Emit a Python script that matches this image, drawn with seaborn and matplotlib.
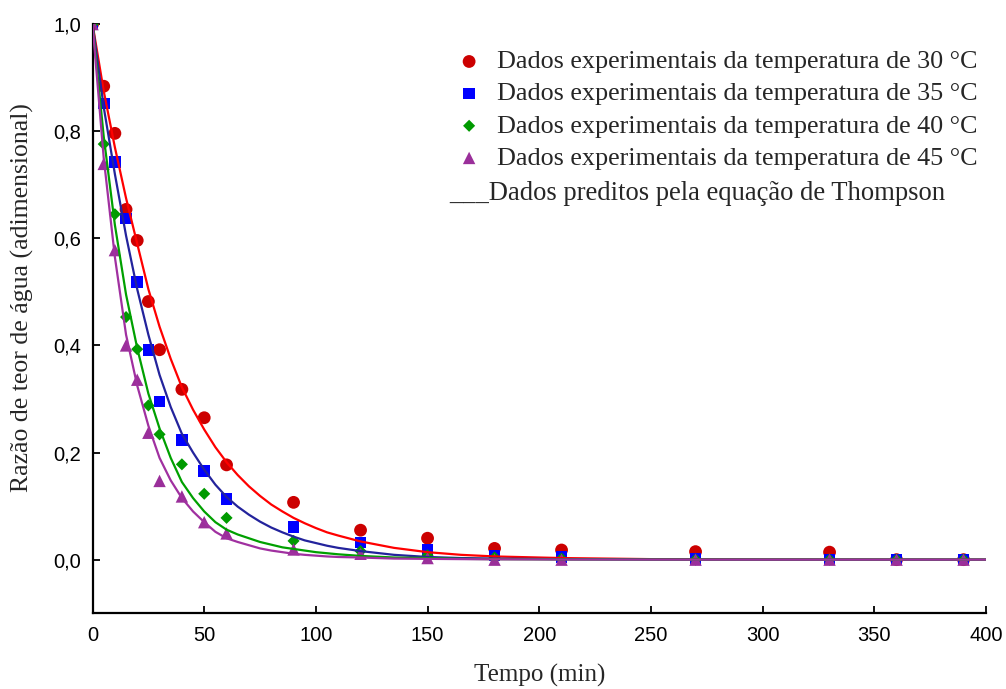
import matplotlib
matplotlib.use("Agg")
import matplotlib.pyplot as plt
import seaborn as sns
import pandas as pd

tempo = [0, 5, 10, 15, 20, 25, 30, 40, 50, 60, 90, 120, 150, 180, 210, 270, 330, 360, 390]
ru_30 = [1.0, 0.884, 0.796, 0.654, 0.596, 0.482, 0.392, 0.318, 0.265, 0.177, 0.107, 0.055,
         0.040, 0.021, 0.018, 0.015, 0.014, 0.0, 0.0]
ru_35 = [1.0, 0.852, 0.743, 0.637, 0.518, 0.391, 0.295, 0.224, 0.165, 0.113, 0.061, 0.032,
         0.019, 0.008, 0.005, 0.001, 0.0, 0.0, 0.0]
ru_40 = [1.0, 0.776, 0.645, 0.453, 0.393, 0.288, 0.234, 0.178, 0.123, 0.078, 0.035, 0.016,
         0.008, 0.004, 0.002, 0.0, 0.0, 0.0, 0.0]
ru_45 = [1.0, 0.739, 0.578, 0.400, 0.336, 0.237, 0.147, 0.118, 0.070, 0.049, 0.019, 0.011,
         0.003, 0.0, 0.0, 0.0, 0.0, 0.0, 0.0]

# Thompson model curves
tempo_fit = [0, 5, 10, 15, 20, 25, 30, 35, 40, 45, 50, 55, 60, 65, 70, 75, 80, 85, 90, 95,
             100, 105, 110, 120, 135, 150, 165, 180, 210, 250, 300, 400]
fit_30 = [1.0, 0.875, 0.77, 0.675, 0.59, 0.505, 0.435, 0.375, 0.322, 0.28, 0.243, 0.21, 0.182,
          0.158, 0.137, 0.119, 0.103, 0.09, 0.078, 0.068, 0.059, 0.051, 0.045, 0.034, 0.022,
          0.014, 0.009, 0.006, 0.003, 0.001, 0.0003, 0.0]
fit_35 = [1.0, 0.845, 0.72, 0.605, 0.505, 0.42, 0.345, 0.285, 0.235, 0.2, 0.168, 0.14, 0.117,
          0.099, 0.084, 0.071, 0.06, 0.051, 0.043, 0.036, 0.031, 0.026, 0.022, 0.016, 0.009,
          0.005, 0.003, 0.002, 0.001, 0.0003, 0.0001, 0.0]
fit_40 = [1.0, 0.79, 0.625, 0.495, 0.395, 0.31, 0.245, 0.19, 0.145, 0.115, 0.09, 0.07, 0.056,
          0.047, 0.04, 0.033, 0.028, 0.023, 0.02, 0.017, 0.014, 0.012, 0.01, 0.007, 0.004,
          0.003, 0.0015, 0.001, 0.0005, 0.0002, 0.0001, 0.0]
fit_45 = [1.0, 0.75, 0.565, 0.42, 0.325, 0.25, 0.19, 0.148, 0.115, 0.09, 0.07, 0.052, 0.04,
          0.033, 0.027, 0.021, 0.017, 0.014, 0.011, 0.009, 0.0075, 0.006, 0.005, 0.004, 0.002,
          0.0015, 0.001, 0.0006, 0.0003, 0.0001, 0.0, 0.0]

labels = ["Dados experimentais da temperatura de 30 \u00b0C",
          "Dados experimentais da temperatura de 35 \u00b0C",
          "Dados experimentais da temperatura de 40 \u00b0C",
          "Dados experimentais da temperatura de 45 \u00b0C"]
thompson_label = "___Dados preditos pela equa\u00e7\u00e3o de Thompson"

sns.set_style("ticks")
plt.rcParams['font.family'] = ['Liberation Sans', 'DejaVu Sans']

fig = plt.figure(figsize=(10.06, 6.89), dpi=100)
ax = fig.add_axes([0.092, 0.110, 0.888, 0.855])

point_series = [(ru_30, "#cc0000", "o", 85), (ru_35, "#0000ff", "s", 70),
                (ru_40, "#009a00", "D", 38), (ru_45, "#9a2f9a", "^", 80)]
for (vals, color, marker, size), lab in zip(point_series, labels):
    sns.scatterplot(x=tempo, y=vals, color=color, marker=marker, s=size,
                    edgecolor="none", label=lab, ax=ax, zorder=3)

fit_series = [(fit_30, "#ff0000"), (fit_35, "#23239c"), (fit_40, "#00a000"), (fit_45, "#a030a0")]
for vals, color in fit_series:
    sns.lineplot(x=tempo_fit, y=vals, color=color, linewidth=1.6, ax=ax, zorder=4)

ax.set_xlim(0, 400)
ax.set_ylim(-0.1, 1.0)
ax.set_xticks(range(0, 401, 50))
ax.set_yticks([0.0, 0.2, 0.4, 0.6, 0.8, 1.0])
ax.set_yticklabels(["0,0", "0,2", "0,4", "0,6", "0,8", "1,0"])
ax.tick_params(direction="in", length=5, width=1.3, labelsize=14.5, colors="black")
ax.tick_params(axis="x", pad=9)
ax.tick_params(axis="y", pad=8)
for side in ["top", "right"]:
    ax.spines[side].set_visible(False)
for side in ["left", "bottom"]:
    ax.spines[side].set_linewidth(1.6)
    ax.spines[side].set_color("black")

serif = ['Liberation Serif', 'DejaVu Serif']
ax.set_xlabel("Tempo (min)", family=serif, fontsize=18)
ax.set_ylabel("Raz\u00e3o de teor de \u00e1gua (adimensional)", family=serif, fontsize=18.5)
ax.xaxis.set_label_coords(0.5, -0.105, transform=ax.transAxes)
ax.xaxis.label.set_va("center")
ax.yaxis.set_label_coords(-0.079, 0.535, transform=ax.transAxes)
ax.yaxis.label.set_va("center")

leg = ax.legend(loc="upper left", bbox_to_anchor=(443 / 1006, 1 - 37 / 689),
                bbox_transform=fig.transFigure, frameon=False, borderpad=0,
                handlelength=1.0, handletextpad=0.55, labelspacing=0.34,
                prop={'family': serif, 'size': 18.8})
fig.text(449 / 1006, 1 - 194 / 689, thompson_label, family=serif, fontsize=19.2,
         ha="left", va="center")

fig.savefig("out.png", dpi=100, facecolor="white")
